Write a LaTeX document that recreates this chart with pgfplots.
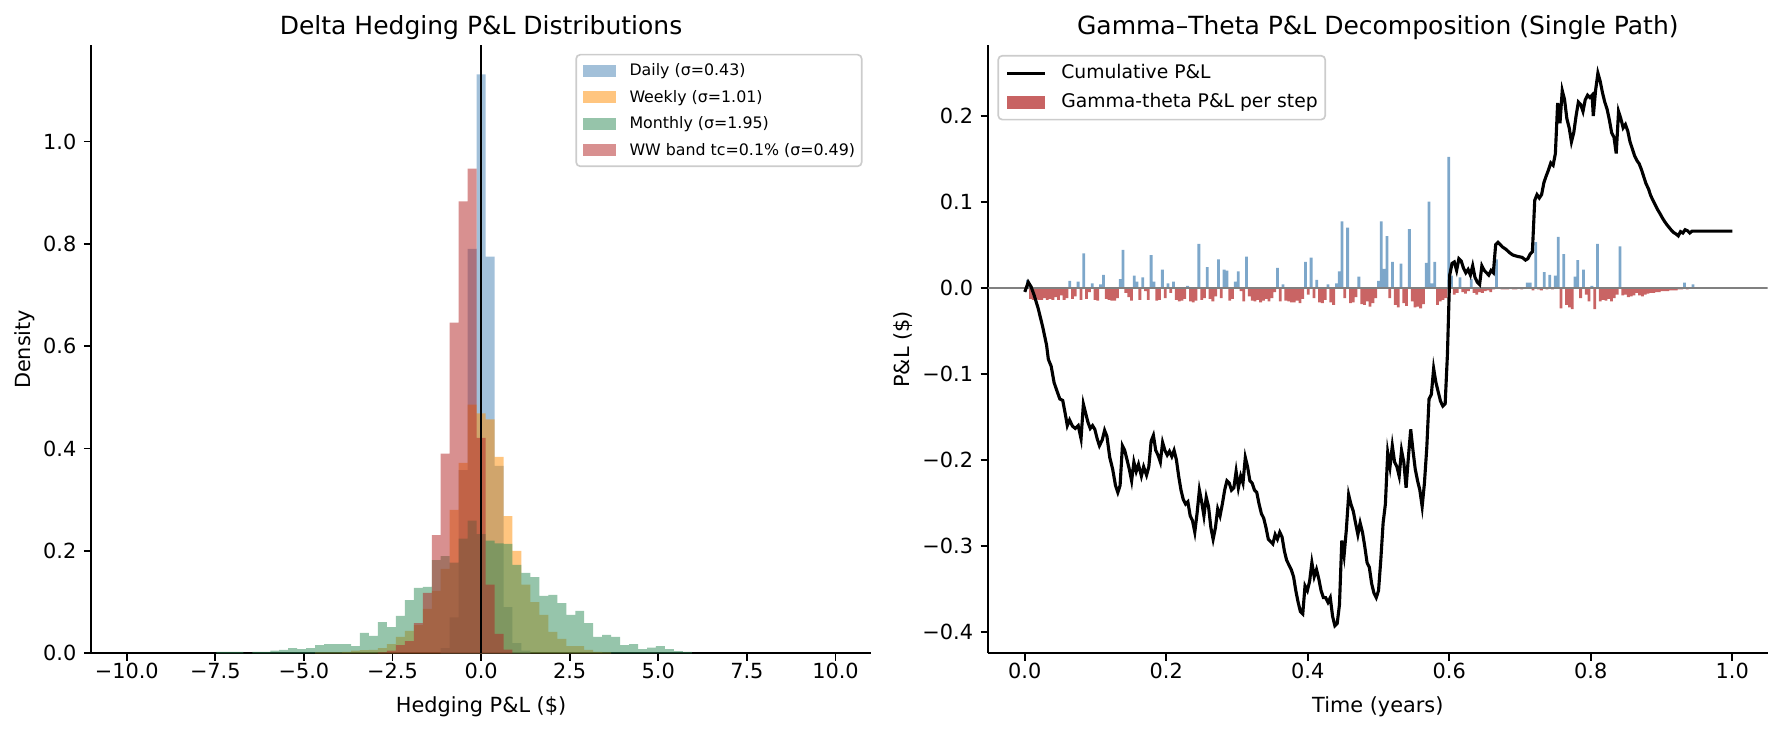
\documentclass[border=0pt]{standalone}
\usepackage{fontspec}
\setmainfont{DejaVu Sans}
\usepackage{pgfplots}
\usepackage{pgfplotstable}
\pgfplotsset{compat=1.18}

\definecolor{cblue}{RGB}{70,130,180}
\definecolor{corange}{RGB}{255,140,0}
\definecolor{cgreen}{RGB}{46,139,87}
\definecolor{cred}{RGB}{178,34,34}

% histogram bins: edges at -10 + k*20/79
\pgfplotstableread{
k d
35 0.010
36 0.070
37 0.358
38 0.790
39 1.131
40 0.775
41 0.366
42 0.090
43 0.020
44 0.005
45 0
}\daily
\pgfplotstableread{
k d
21 0.002
22 0.002
23 0.002
24 0.003
25 0.005
26 0.006
27 0.0065
28 0.010
29 0.018
30 0.032
31 0.044
32 0.055
33 0.087
34 0.122
35 0.165
36 0.280
37 0.372
38 0.486
39 0.469
40 0.457
41 0.384
42 0.268
43 0.200
44 0.134
45 0.100
46 0.075
47 0.042
48 0.028
49 0.014
50 0.014
51 0.0065
52 0.003
53 0.002
54 0
}\weekly
\pgfplotstableread{
k d
10 0.003
11 0.003
12 0.003
13 0
14 0.003
15 0.003
16 0.005
17 0.0065
18 0.010
19 0.008
20 0.010
21 0.016
22 0.018
23 0.018
24 0.018
25 0.014
26 0.040
27 0.034
28 0.061
29 0.051
30 0.073
31 0.104
32 0.128
33 0.130
34 0.182
35 0.190
36 0.177
37 0.224
38 0.259
39 0.233
40 0.220
41 0.215
42 0.214
43 0.173
44 0.157
45 0.149
46 0.112
47 0.114
48 0.098
49 0.075
50 0.083
51 0.059
52 0.032
53 0.036
54 0.032
55 0.016
56 0.018
57 0.008
58 0.011
59 0.014
60 0.008
61 0.004
62 0.003
63 0
}\monthly
\pgfplotstableread{
k d
28 0.002
29 0.005
30 0.016
31 0.024
32 0.059
33 0.118
34 0.231
35 0.390
36 0.646
37 0.883
38 0.947
39 0.421
40 0.134
41 0.038
42 0.007
43 0
}\wwband

% gamma-theta P&L per step (step k, t = k/252)
\pgfplotstableread{
k v
0 0
1 0.009
2 -0.013
3 -0.014
4 -0.013
5 -0.014
6 -0.014
7 -0.012
8 -0.014
9 -0.013
10 -0.014
11 -0.011
12 -0.014
13 -0.009
14 -0.014
15 -0.012
16 0.008
17 -0.013
18 -0.010
19 0.007
20 -0.014
21 0.040
22 -0.013
23 -0.005
24 0.005
25 -0.014
26 -0.015
27 0.004
28 0.015
29 -0.013
30 -0.014
31 -0.015
32 -0.015
33 -0.012
34 0.010
35 0.044
36 -0.006
37 -0.011
38 -0.015
39 0.014
40 0.007
41 -0.014
42 0.012
43 -0.004
44 -0.014
45 0.038
46 0.007
47 -0.015
48 -0.014
49 0.021
50 -0.012
51 0.005
52 -0.006
53 0.007
54 -0.014
55 -0.016
56 -0.015
57 -0.013
58 0.002
59 -0.016
60 -0.017
61 -0.015
62 0.051
63 -0.014
64 -0.012
65 0.024
66 -0.013
67 -0.016
68 -0.010
69 0.033
70 -0.012
71 0.021
72 0.020
73 -0.015
74 -0.013
75 0.007
76 0.019
77 -0.004
78 -0.016
79 0.036
80 -0.010
81 -0.015
82 -0.016
83 -0.014
84 -0.017
85 -0.015
86 -0.013
87 -0.016
88 -0.012
89 -0.005
90 0.023
91 -0.016
92 0.004
93 -0.015
94 -0.016
95 -0.017
96 -0.017
97 -0.015
98 -0.018
99 -0.013
100 0.030
101 -0.008
102 0.035
103 -0.012
104 0.009
105 -0.017
106 -0.018
107 -0.014
108 0.004
109 -0.017
110 -0.020
111 0.005
112 0.019
113 0.077
114 -0.012
115 0.070
116 -0.018
117 -0.017
118 -0.011
119 0.013
120 -0.019
121 -0.020
122 -0.016
123 -0.022
124 -0.018
125 -0.012
126 0.008
127 0.077
128 0.022
129 0.060
130 -0.012
131 0.030
132 -0.020
133 -0.023
134 0.028
135 -0.018
136 -0.021
137 0.068
138 -0.016
139 -0.023
140 -0.022
141 -0.024
142 -0.019
143 0.029
144 0.100
145 0.005
146 0.030
147 -0.020
148 -0.016
149 -0.014
150 -0.012
151 0.152
152 0.014
153 -0.008
154 -0.006
155 0.012
156 -0.005
157 -0.007
158 -0.004
159 0.010
160 -0.006
161 -0.008
162 -0.005
163 -0.006
164 -0.004
165 -0.003
166 -0.005
167 -0.002
168 0.033
169 -0.001
170 -0.002
171 -0.002
172 -0.002
173 -0.001
174 -0.002
175 -0.002
176 -0.001
177 -0.002
178 -0.001
179 0.006
180 0.006
181 -0.003
182 0.053
183 -0.002
184 -0.003
185 0.018
186 -0.002
187 0.015
188 -0.002
189 0.014
190 0.059
191 -0.024
192 0.039
193 -0.020
194 -0.023
195 -0.025
196 0.013
197 0.032
198 -0.012
199 0.021
200 -0.008
201 -0.016
202 0.002
203 -0.025
204 0.051
205 -0.016
206 -0.014
207 -0.015
208 -0.013
209 -0.016
210 -0.012
211 -0.008
212 0.048
213 -0.009
214 -0.008
215 -0.011
216 -0.010
217 -0.009
218 -0.006
219 -0.009
220 -0.010
221 -0.008
222 -0.007
223 -0.006
224 -0.006
225 -0.005
226 -0.005
227 -0.004
228 -0.004
229 -0.004
230 -0.003
231 -0.003
232 -0.003
233 -0.002
234 -0.002
235 0.006
236 -0.002
237 -0.001
238 0.004
239 -0.001
}\gtsteps

% cumulative P&L
\pgfplotstableread{
t c
0.0000 -0.0049
0.0049 0.0065
0.0089 0.0011
0.0130 -0.0082
0.0187 -0.0234
0.0252 -0.0451
0.0308 -0.0668
0.0333 -0.0832
0.0373 -0.0913
0.0414 -0.1103
0.0455 -0.1201
0.0495 -0.1293
0.0536 -0.1310
0.0576 -0.1484
0.0601 -0.1603
0.0633 -0.1538
0.0674 -0.1609
0.0714 -0.1636
0.0755 -0.1603
0.0795 -0.1755
0.0828 -0.1353
0.0860 -0.1457
0.0893 -0.1565
0.0925 -0.1636
0.0958 -0.1603
0.0990 -0.1647
0.1023 -0.1755
0.1055 -0.1837
0.1096 -0.1766
0.1128 -0.1658
0.1161 -0.1728
0.1201 -0.1973
0.1242 -0.2109
0.1282 -0.2299
0.1315 -0.2380
0.1347 -0.2299
0.1380 -0.1837
0.1412 -0.1891
0.1445 -0.2000
0.1477 -0.2109
0.1510 -0.2245
0.1542 -0.2027
0.1575 -0.2136
0.1607 -0.2054
0.1648 -0.2190
0.1680 -0.2082
0.1721 -0.2179
0.1753 -0.2082
0.1786 -0.1783
0.1818 -0.1717
0.1851 -0.1891
0.1883 -0.1946
0.1916 -0.2027
0.1948 -0.1799
0.1981 -0.1891
0.2013 -0.1946
0.2045 -0.1902
0.2078 -0.1962
0.2110 -0.1891
0.2143 -0.2000
0.2175 -0.2190
0.2208 -0.2353
0.2240 -0.2462
0.2273 -0.2516
0.2305 -0.2489
0.2338 -0.2652
0.2370 -0.2707
0.2403 -0.2842
0.2435 -0.2625
0.2468 -0.2353
0.2500 -0.2489
0.2532 -0.2652
0.2565 -0.2435
0.2597 -0.2543
0.2630 -0.2788
0.2662 -0.2924
0.2695 -0.2788
0.2727 -0.2571
0.2760 -0.2652
0.2792 -0.2516
0.2825 -0.2353
0.2857 -0.2245
0.2890 -0.2272
0.2922 -0.2353
0.2955 -0.2326
0.2987 -0.2136
0.3019 -0.2326
0.3052 -0.2190
0.3084 -0.2272
0.3117 -0.1973
0.3149 -0.2082
0.3182 -0.2245
0.3214 -0.2272
0.3247 -0.2353
0.3279 -0.2380
0.3312 -0.2516
0.3344 -0.2625
0.3377 -0.2679
0.3409 -0.2788
0.3442 -0.2924
0.3474 -0.2951
0.3506 -0.2978
0.3539 -0.2870
0.3571 -0.2924
0.3604 -0.2842
0.3636 -0.2897
0.3669 -0.3060
0.3701 -0.3168
0.3734 -0.3223
0.3766 -0.3277
0.3799 -0.3359
0.3831 -0.3522
0.3864 -0.3658
0.3896 -0.3766
0.3929 -0.3793
0.3961 -0.3467
0.3994 -0.3522
0.4026 -0.3413
0.4058 -0.3196
0.4091 -0.3359
0.4123 -0.3277
0.4156 -0.3386
0.4188 -0.3522
0.4221 -0.3603
0.4253 -0.3603
0.4286 -0.3658
0.4318 -0.3603
0.4351 -0.3821
0.4383 -0.3929
0.4416 -0.3902
0.4448 -0.3685
0.4481 -0.2940
0.4513 -0.3114
0.4545 -0.2815
0.4578 -0.2408
0.4610 -0.2516
0.4643 -0.2598
0.4675 -0.2734
0.4708 -0.2870
0.4740 -0.2734
0.4773 -0.2842
0.4805 -0.3005
0.4838 -0.3196
0.4870 -0.3250
0.4903 -0.3440
0.4935 -0.3549
0.4968 -0.3603
0.5000 -0.3522
0.5032 -0.3168
0.5065 -0.2734
0.5097 -0.2516
0.5130 -0.1918
0.5162 -0.2082
0.5195 -0.1837
0.5227 -0.2027
0.5260 -0.2082
0.5292 -0.2190
0.5325 -0.1891
0.5357 -0.2027
0.5390 -0.2326
0.5422 -0.1973
0.5455 -0.1647
0.5487 -0.1891
0.5519 -0.2109
0.5552 -0.2245
0.5584 -0.2353
0.5617 -0.2543
0.5649 -0.2272
0.5682 -0.1864
0.5714 -0.1293
0.5747 -0.1239
0.5779 -0.0940
0.5812 -0.1103
0.5844 -0.1212
0.5877 -0.1321
0.5909 -0.1375
0.5942 -0.1348
0.5974 -0.0777
0.6006 0.0147
0.6039 0.0283
0.6071 0.0299
0.6104 0.0201
0.6136 0.0337
0.6169 0.0310
0.6201 0.0228
0.6234 0.0174
0.6266 0.0212
0.6299 0.0147
0.6331 0.0255
0.6364 0.0120
0.6396 0.0065
0.6429 0.0038
0.6461 0.0255
0.6494 0.0201
0.6526 0.0174
0.6558 0.0147
0.6591 0.0201
0.6623 0.0174
0.6656 0.0500
0.6688 0.0527
0.6721 0.0500
0.6753 0.0473
0.6802 0.0446
0.6851 0.0408
0.6899 0.0380
0.6964 0.0364
0.7029 0.0353
0.7078 0.0321
0.7110 0.0337
0.7143 0.0391
0.7175 0.0418
0.7208 0.1016
0.7240 0.1082
0.7273 0.1043
0.7305 0.1082
0.7338 0.1223
0.7370 0.1299
0.7403 0.1370
0.7435 0.1451
0.7468 0.1424
0.7500 0.1560
0.7532 0.2147
0.7565 0.1913
0.7597 0.2293
0.7630 0.2185
0.7662 0.1967
0.7695 0.1859
0.7727 0.1696
0.7760 0.1804
0.7792 0.1995
0.7825 0.2158
0.7857 0.2130
0.7890 0.2049
0.7922 0.2185
0.7955 0.2239
0.7987 0.2212
0.8019 0.2239
0.8036 0.1995
0.8068 0.2293
0.8101 0.2495
0.8133 0.2402
0.8166 0.2266
0.8198 0.2158
0.8231 0.2076
0.8263 0.1951
0.8295 0.1804
0.8328 0.1750
0.8360 0.1560
0.8393 0.2049
0.8425 0.1967
0.8458 0.1859
0.8490 0.1897
0.8523 0.1821
0.8555 0.1696
0.8588 0.1614
0.8620 0.1533
0.8653 0.1478
0.8685 0.1440
0.8718 0.1370
0.8750 0.1288
0.8782 0.1207
0.8815 0.1152
0.8847 0.1071
0.8880 0.1016
0.8912 0.0962
0.8945 0.0908
0.8977 0.0864
0.9010 0.0815
0.9042 0.0772
0.9075 0.0734
0.9107 0.0701
0.9140 0.0668
0.9172 0.0641
0.9205 0.0625
0.9237 0.0603
0.9269 0.0652
0.9302 0.0636
0.9334 0.0674
0.9367 0.0663
0.9399 0.0636
0.9432 0.0658
0.9481 0.0658
0.9643 0.0658
1.0000 0.0658
}\cumpnl

\pgfplotsset{
  mpl/.style={
    scale only axis, width=374.21bp, height=291.74bp,
    axis x line*=bottom, axis y line*=left,
    axis line style={line width=0.8bp, black, -},
    every outer x axis line/.append style={-},
    every outer y axis line/.append style={-},
    tick align=outside, major tick length=3.5bp,
    tick style={line width=0.8bp, black},
    xticklabel style={font=\fontsize{10bp}{12bp}\selectfont, anchor=base, inner sep=0pt, yshift=-8.8bp},
    yticklabel style={font=\fontsize{10bp}{12bp}\selectfont, anchor=east, inner sep=0pt, xshift=-3.5bp},
    xlabel style={font=\fontsize{10bp}{12bp}\selectfont, at={(axis description cs:0.5,0)}, anchor=base, yshift=-28.2bp},
    every axis title shift=0pt,
    title style={font=\fontsize{12bp}{14.4bp}\selectfont, at={(axis description cs:0.5,1)}, anchor=base, yshift=5.5bp},
    legend cell align=left,
  },
  patchleg/.style={legend image code/.code={\fill[##1,sharp corners] (0bp,-2.8bp) rectangle (16bp,2.8bp);}},
  patchlegr/.style={legend image code/.code={\fill[##1,sharp corners] (0bp,-3.15bp) rectangle (18bp,3.15bp);}},
  lineleg/.style={legend image code/.code={\draw[##1,sharp corners] (0bp,0bp) -- (18bp,0bp);}},
}

\begin{document}
\begin{tikzpicture}
\useasboundingbox (0,0) rectangle (855.84bp,351.36bp);

% ---------------- left panel ----------------
\begin{axis}[mpl,
  at={(43.82bp,37.78bp)}, anchor=south west,
  xmin=-11, xmax=11, ymin=0, ymax=1.1876,
  xtick={-10,-7.5,-5,-2.5,0,2.5,5,7.5,10},
  xticklabels={−10.0,−7.5,−5.0,−2.5,0.0,2.5,5.0,7.5,10.0},
  ytick={0,0.2,0.4,0.6,0.8,1},
  yticklabels={0.0,0.2,0.4,0.6,0.8,1.0},
  xlabel={Hedging P\&L (\$)},
  ylabel={Density},
  ylabel style={font=\fontsize{10bp}{12bp}\selectfont, at={(axis description cs:-0.0780,0.5)}, anchor=base},
  title={Delta Hedging P\&L Distributions},
  legend style={
    at={(1,1)}, anchor=north east, xshift=-4bp, yshift=-4bp,
    draw=black!20, line width=0.8bp, rounded corners=2bp, fill=white,
    font=\fontsize{7.6bp}{9.2bp}\selectfont,
    inner xsep=3.2bp, inner ysep=3.4bp, row sep=4bp,
    nodes={inner sep=0pt, text height=6.7bp, text depth=2bp, font=\fontsize{7.6bp}{9.2bp}\selectfont},
    /tikz/every odd column/.append style={column sep=6.4bp},
  },
]
\addplot[const plot, fill=cblue, fill opacity=0.5, draw=none, patchleg]
  table[x expr={-10+\thisrow{k}*20/79}, y=d] {\daily} \closedcycle;
\addlegendentry{Daily (σ=0.43)}
\addplot[const plot, fill=corange, fill opacity=0.5, draw=none, patchleg]
  table[x expr={-10+\thisrow{k}*20/79}, y=d] {\weekly} \closedcycle;
\addlegendentry{Weekly (σ=1.01)}
\addplot[const plot, fill=cgreen, fill opacity=0.5, draw=none, patchleg]
  table[x expr={-10+\thisrow{k}*20/79}, y=d] {\monthly} \closedcycle;
\addlegendentry{Monthly (σ=1.95)}
\addplot[const plot, fill=cred, fill opacity=0.5, draw=none, patchleg]
  table[x expr={-10+\thisrow{k}*20/79}, y=d] {\wwband} \closedcycle;
\addlegendentry{WW band tc=0.1\% (σ=0.49)}
\addplot[black, line width=0.8bp, forget plot] coordinates {(0,0) (0,1.1876)};
\end{axis}

% ---------------- right panel ----------------
\begin{axis}[mpl,
  at={(474.24bp,37.78bp)}, anchor=south west,
  xmin=-0.052, xmax=1.05, ymin=-0.425, ymax=0.2816,
  xtick={0,0.2,0.4,0.6,0.8,1},
  xticklabels={0.0,0.2,0.4,0.6,0.8,1.0},
  ytick={-0.4,-0.3,-0.2,-0.1,0,0.1,0.2},
  yticklabels={−0.4,−0.3,−0.2,−0.1,0.0,0.1,0.2},
  xlabel={Time (years)},
  ylabel={P\&L (\$)},
  ylabel style={font=\fontsize{10bp}{12bp}\selectfont, at={(axis description cs:-0.1004,0.5)}, anchor=base},
  title={Gamma–Theta P\&L Decomposition (Single Path)},
  legend style={
    at={(0,1)}, anchor=north west, xshift=4.5bp, yshift=-4.5bp,
    draw=black!20, line width=0.8bp, rounded corners=2bp, fill=white,
    font=\fontsize{9bp}{10.8bp}\selectfont,
    inner xsep=3.6bp, inner ysep=3.6bp, row sep=4.5bp,
    nodes={inner sep=0pt, text height=7.4bp, text depth=2.1bp, font=\fontsize{9bp}{10.8bp}\selectfont},
    /tikz/every odd column/.append style={column sep=7.2bp},
  },
]
\addplot[ybar, bar width=0.003968, fill=cblue, fill opacity=0.7, draw=none, forget plot,
  restrict y to domain=0:1]
  table[x expr={\thisrow{k}/252}, y=v] {\gtsteps};
\addplot[ybar, bar width=0.003968, fill=cred, fill opacity=0.7, draw=none, forget plot,
  restrict y to domain=-1:0]
  table[x expr={\thisrow{k}/252}, y=v] {\gtsteps};
\addplot[gray, line width=0.8bp, forget plot] coordinates {(-0.052,0) (1.05,0)};
\addplot[black, line width=1.5bp, lineleg] table[x=t, y=c] {\cumpnl};
\addlegendentry{Cumulative P\&L}
\addlegendimage{patchlegr, fill=cred, fill opacity=0.7, draw=none}
\addlegendentry{Gamma-theta P\&L per step}
\end{axis}
\end{tikzpicture}
\end{document}
